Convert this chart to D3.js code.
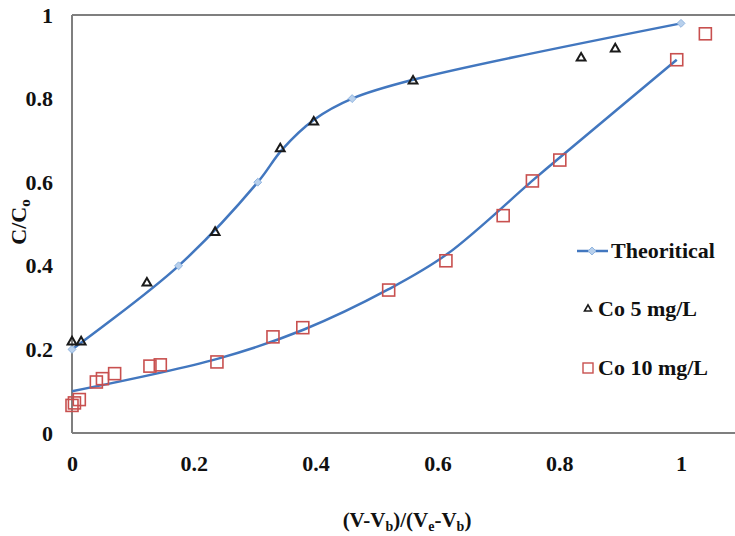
<!DOCTYPE html>
<html>
<head>
<meta charset="utf-8">
<script src="https://cdn.jsdelivr.net/npm/d3@7"></script>
<style>
  body { margin: 0; background: #fff; }
</style>
</head>
<body>
<svg id="chart" width="735" height="536"></svg>
<script>
// dados
const theoryUpper = [[0, 0.2], [0.175, 0.4], [0.305, 0.6], [0.46, 0.8], [1.0, 0.98]];
const theoryUpperKnots = [[0, 0.2], [0.175, 0.4], [0.305, 0.6], [0.345, 0.678], [0.398, 0.75], [0.46, 0.8], [0.56, 0.845], [1.0, 0.98]];
const theoryLower = [[0, 0.1], [0.24, 0.178], [0.38, 0.247], [0.52, 0.344], [0.616, 0.428], [0.757, 0.605], [0.80, 0.658], [0.993, 0.893]];
const co5 = [[0.0, 0.218], [0.015, 0.218], [0.123, 0.359], [0.235, 0.48], [0.342, 0.68], [0.397, 0.744], [0.56, 0.842], [0.836, 0.897], [0.892, 0.919]];
const co10 = [[0.0, 0.066], [0.004, 0.072], [0.012, 0.08], [0.04, 0.122], [0.05, 0.13], [0.07, 0.142], [0.128, 0.16], [0.145, 0.163], [0.238, 0.17],
  [0.33, 0.23], [0.379, 0.252], [0.52, 0.342], [0.614, 0.412], [0.708, 0.52], [0.756, 0.603], [0.801, 0.653], [0.993, 0.893], [1.04, 0.955]];
const xTicks = [0, 0.2, 0.4, 0.6, 0.8, 1];
const yTicks = [0, 0.2, 0.4, 0.6, 0.8, 1];
const legendLabels = ["Theoritical", "Co 5 mg/L", "Co 10 mg/L"];

const svg = d3.select("#chart");
const x = d3.scaleLinear().domain([0, 1]).range([72, 681]);
const y = d3.scaleLinear().domain([0, 1]).range([433, 15]);

const blue = "#4277bf";
const red = "#c8504f";
const font = "Liberation Serif";

// moldura (eixo esquerdo, base e topo)
const frame = svg.append("g").attr("stroke", "#7f7f7f").attr("stroke-width", 2);
frame.append("line").attr("x1", x(0)).attr("x2", 735).attr("y1", y(1)).attr("y2", y(1));
frame.append("line").attr("x1", x(0)).attr("x2", 735).attr("y1", y(0)).attr("y2", y(0));
frame.append("line").attr("x1", x(0)).attr("x2", x(0)).attr("y1", y(1)).attr("y2", y(0));

// rótulos dos eixos
const yAxis = d3.axisLeft(y).tickValues(yTicks).tickSize(0).tickPadding(19).tickFormat(d3.format("~g"));
svg.append("g").attr("transform", `translate(${x(0)},0)`).call(yAxis)
  .call(g => g.select(".domain").remove())
  .selectAll("text")
  .style("font-family", font).style("font-weight", "bold").style("font-size", "22px")
  .attr("fill", "#111");

const xAxis = d3.axisBottom(x).tickValues(xTicks).tickSize(0).tickPadding(22).tickFormat(d3.format("~g"));
svg.append("g").attr("transform", `translate(0,${y(0)})`).call(xAxis)
  .call(g => g.select(".domain").remove())
  .selectAll("text")
  .style("font-family", font).style("font-weight", "bold").style("font-size", "22px")
  .attr("fill", "#111");

// curvas teóricas
const line = d3.line().x(d => x(d[0])).y(d => y(d[1])).curve(d3.curveCatmullRom.alpha(0.5));
[theoryUpperKnots, theoryLower].forEach(data => {
  svg.append("path").datum(data).attr("d", line)
    .attr("fill", "none").attr("stroke", blue).attr("stroke-width", 2.5);
});

const diamond = d3.symbol().type(d3.symbolDiamond2).size(40);
svg.selectAll("path.diamond").data(theoryUpper).enter().append("path")
  .attr("class", "diamond")
  .attr("d", diamond)
  .attr("transform", d => `translate(${x(d[0])},${y(d[1])})`)
  .attr("fill", "#b8d0ec").attr("stroke", "#8fb4e0").attr("stroke-width", 1);

// Co 5 mg/L (triângulos)
const tri = d3.symbol().type(d3.symbolTriangle2).size(55);
svg.selectAll("path.tri").data(co5).enter().append("path")
  .attr("class", "tri")
  .attr("d", tri)
  .attr("transform", d => `translate(${x(d[0])},${y(d[1])})`)
  .attr("fill", "none").attr("stroke", "#1a1a1a").attr("stroke-width", 2);

// Co 10 mg/L (quadrados)
svg.selectAll("rect.sq").data(co10).enter().append("rect")
  .attr("class", "sq")
  .attr("x", d => x(d[0]) - 6).attr("y", d => y(d[1]) - 6)
  .attr("width", 12).attr("height", 12)
  .attr("fill", "none").attr("stroke", red).attr("stroke-width", 1.6);

// legenda
const leg = svg.append("g");
const legY = [251, 309, 368];
leg.append("line").attr("x1", 577).attr("x2", 608).attr("y1", legY[0]).attr("y2", legY[0])
  .attr("stroke", blue).attr("stroke-width", 2.5);
leg.append("path").attr("d", diamond).attr("transform", `translate(592,${legY[0]})`)
  .attr("fill", "#b8d0ec").attr("stroke", "#8fb4e0");
leg.append("path").attr("d", d3.symbol().type(d3.symbolTriangle2).size(35))
  .attr("transform", `translate(588,${legY[1]})`)
  .attr("fill", "none").attr("stroke", "#1a1a1a").attr("stroke-width", 1.6);
leg.append("rect").attr("x", 583).attr("y", legY[2] - 5).attr("width", 10).attr("height", 10)
  .attr("fill", "none").attr("stroke", red).attr("stroke-width", 1.4);
leg.selectAll("text").data(legendLabels).enter().append("text")
  .attr("x", (d, i) => i === 0 ? 611 : 598)
  .attr("y", (d, i) => legY[i] + 7)
  .style("font-family", font).style("font-weight", "bold").style("font-size", "22px")
  .attr("fill", "#111")
  .text(d => d);

// títulos dos eixos
const xt = svg.append("text").attr("x", 407).attr("y", 527).attr("text-anchor", "middle")
  .style("font-family", font).style("font-weight", "bold").style("font-size", "21px")
  .attr("fill", "#111");
xt.append("tspan").text("(V-V");
xt.append("tspan").style("font-size", "14px").attr("dy", 4).text("b");
xt.append("tspan").attr("dy", -4).text(")/(V");
xt.append("tspan").style("font-size", "14px").attr("dy", 4).text("e");
xt.append("tspan").attr("dy", -4).text("-V");
xt.append("tspan").style("font-size", "14px").attr("dy", 4).text("b");
xt.append("tspan").attr("dy", -4).text(")");

const yt = svg.append("text").attr("transform", "translate(26,222) rotate(-90)")
  .attr("text-anchor", "middle")
  .style("font-family", font).style("font-weight", "bold").style("font-size", "22px")
  .attr("fill", "#111");
yt.append("tspan").text("C/C");
yt.append("tspan").style("font-size", "15px").attr("dy", 4).text("o");
</script>
</body>
</html>
